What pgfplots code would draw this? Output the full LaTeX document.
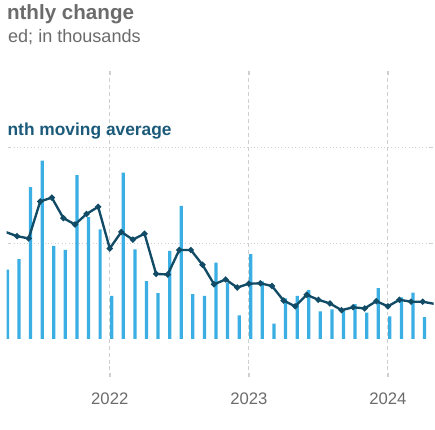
\documentclass[border=0pt]{standalone}
\usepackage{fontspec}
\setmainfont{Liberation Sans}
\usepackage{pgfplots}
\pgfplotsset{compat=1.18}
\definecolor{barblue}{HTML}{3BAFE3}
\definecolor{avgline}{HTML}{124B66}
\definecolor{titlegrey}{HTML}{6B6B6B}
\definecolor{legteal}{HTML}{1B5A7A}
\definecolor{gridgrey}{HTML}{CFCFCF}
\begin{document}
\begin{tikzpicture}
\draw[white, line width=3pt] (0pt,0pt) rectangle (435pt,435pt);
\begin{axis}[
  at={(0pt,52pt)}, anchor=south west,
  scale only axis, width=435pt, height=312.6pt,
  xmin=-8.89, xmax=27.94, ymin=-200, ymax=1400,
  axis line style={draw=white},
  xtick={0,12,24}, xticklabels={2022,2023,2024},
  ytick={500,1000}, yticklabels={},
  tick style={gridgrey},
  xmajorgrids, ymajorgrids,
  x grid style={gridgrey, line width=0.9pt, dash pattern=on 4pt off 3pt},
  y grid style={gridgrey, line width=1pt, dash pattern=on 1pt off 2.5pt},
  xticklabel style={font=\fontsize{17}{20}\selectfont, text=titlegrey, yshift=-12pt},
]
\addplot[ybar, bar width=3.3pt, bar shift=2pt, fill=barblue, draw=none] coordinates {
(-10,830) (-9,362) (-8,416) (-7,792) (-6,930) (-5,485) (-4,464) (-3,855) (-2,635) (-1,572)
(0,224) (1,868) (2,467) (3,302) (4,239) (5,459) (6,694) (7,234) (8,225) (9,398)
(10,293) (11,123) (12,442) (13,300) (14,80) (15,211) (16,225) (17,254) (18,144) (19,154)
(20,147) (21,181) (22,137) (23,265) (24,118) (25,217) (26,242) (27,114) (28,193)
};
\addplot[avgline, line width=2.4pt, mark=*, mark size=1.7pt] coordinates {
(-10,560) (-9,558) (-8,536) (-7,524) (-6,717) (-5,737) (-4,630) (-3,597) (-2,652) (-1,689)
(0,472) (1,558) (2,518) (3,549) (4,339) (5,336) (6,464) (7,464) (8,387) (9,285)
(10,310) (11,268) (12,288) (13,290) (14,276) (15,200) (16,170) (17,230) (18,204) (19,185)
(20,150) (21,165) (22,159) (23,197) (24,170) (25,204) (26,194) (27,194) (28,183)
};
\end{axis}
\node[anchor=base east, inner sep=0pt, text=titlegrey, font=\fontsize{21}{25}\selectfont\bfseries] at (130pt,416.7pt) {nthly change};
\node[anchor=base east, inner sep=0pt, text=titlegrey, font=\fontsize{18.4}{22}\selectfont] at (136.7pt,392.7pt) {ed; in thousands};
\node[anchor=base east, inner sep=0pt, text=legteal, font=\fontsize{17.7}{21}\selectfont\bfseries] at (168.3pt,298.3pt) {nth moving average};
\end{tikzpicture}
\end{document}
